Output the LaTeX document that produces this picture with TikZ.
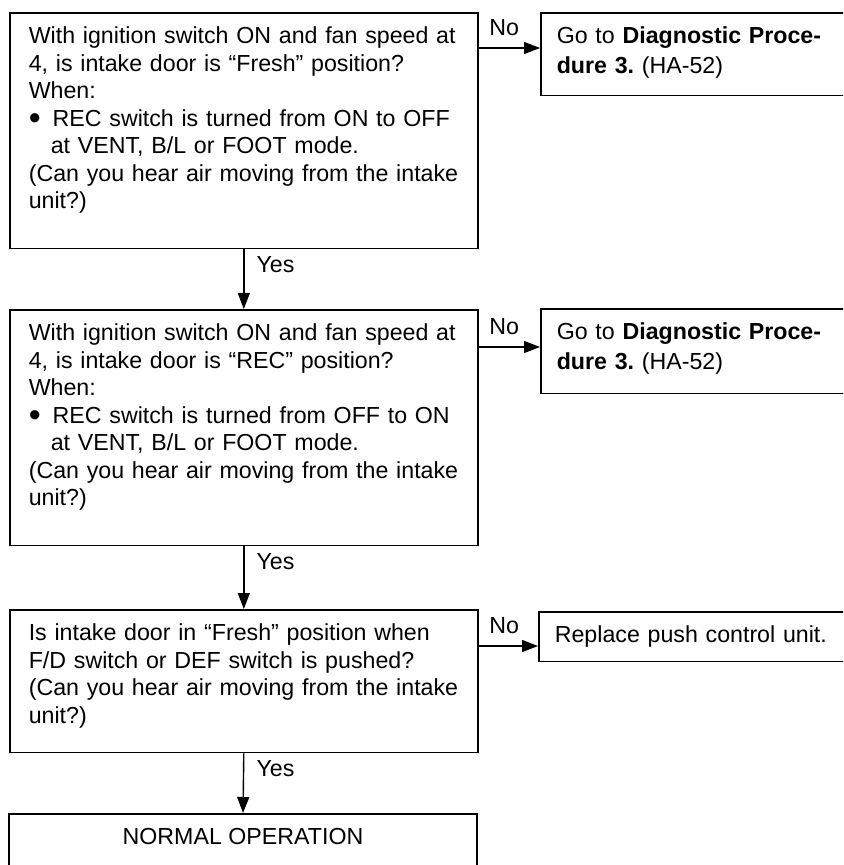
\documentclass[tikz,border=0pt]{standalone}
\usepackage{fontspec}
\setmainfont{Liberation Sans}
\usetikzlibrary{arrows.meta,positioning}
\newcommand{\dotitem}{\raisebox{-1.7pt}{\fontsize{17pt}{14pt}\selectfont\textbullet}\hspace{6pt}}
\tikzset{
  qbox/.style={draw, line width=0.8pt, anchor=north west, align=left,
               text width=215pt, inner xsep=9.5pt, inner ysep=7pt, text depth=#1,
               font=\fontsize{11.6pt}{13.75pt}\selectfont},
  abox/.style={draw, line width=0.8pt, anchor=north west, align=left,
               text width=320pt, inner xsep=8pt, inner ysep=7pt, text depth=#1,
               font=\fontsize{11.6pt}{15pt}\selectfont},
  endbox/.style={draw, line width=0.8pt, anchor=north, minimum width=234pt,
                 inner ysep=7pt, text depth=10.5pt,
                 font=\fontsize{11.6pt}{13.75pt}\selectfont},
  flow/.style={-{Triangle[length=8pt, width=6pt]}, line width=0.7pt},
  nolbl/.style={pos=0, anchor=south west, xshift=3pt, yshift=4pt, inner sep=2pt,
                font=\fontsize{11.6pt}{13.75pt}\selectfont},
  yeslbl/.style={pos=0, anchor=north west, xshift=4pt, yshift=-1.3pt, inner sep=2pt,
                 font=\fontsize{11.6pt}{13.75pt}\selectfont},
}

\begin{document}
\begin{tikzpicture}[x=0.5pt, y=-0.5pt]
\useasboundingbox (0,0) rectangle (843,865);
\clip (0,0) rectangle (843,865);

% Check steps (left column)
\node[qbox=95.5pt] (q1) at (9,12) {With ignition switch ON and fan speed at\\
  4, is intake door is ``Fresh'' position?\\
  When:\\
  \dotitem REC switch is turned from ON to OFF\\
  \hspace*{11pt}at VENT, B/L or FOOT mode.\\
  (Can you hear air moving from the intake\\
  unit?)};
\node[qbox=95.5pt] (q2) at (9,309) {With ignition switch ON and fan speed at\\
  4, is intake door is ``REC'' position?\\
  When:\\
  \dotitem REC switch is turned from OFF to ON\\
  \hspace*{11pt}at VENT, B/L or FOOT mode.\\
  (Can you hear air moving from the intake\\
  unit?)};
\node[qbox=49pt] (q3) at (9,609) {Is intake door in ``Fresh'' position when\\
  F/D switch or DEF switch is pushed?\\
  (Can you hear air moving from the intake\\
  unit?)};
\node[endbox] (ok) at (243,813) {NORMAL OPERATION};

% Actions (right column)
\node[abox=19pt] (r1) at (540,12) {Go to \textbf{Diagnostic Proce-}\\
  \textbf{dure 3.}\ (HA-52)};
\node[abox=20pt] (r2) at (540,308) {Go to \textbf{Diagnostic Proce-}\\
  \textbf{dure 3.}\ (HA-52)};
\node[abox=2.5pt] (r3) at (538,611) {Replace push control unit.};

% Yes path
\draw[flow] (q1.south) -- node[yeslbl] (y1) {Yes} (q2.north);
\draw[flow] (q2.south) -- node[yeslbl] (y2) {Yes} (q3.north);
\draw[flow] (q3.south) -- node[yeslbl] (y3) {Yes} (ok.north);

% No path
\coordinate (n1) at ([yshift=-18pt]q1.north east);
\coordinate (n2) at ([yshift=-19pt]q2.north east);
\coordinate (n3) at ([yshift=-18.5pt]q3.north east);
\draw[flow] (n1) -- node[nolbl] (no1) {No} (n1 -| r1.west);
\draw[flow] (n2) -- node[nolbl] (no2) {No} (n2 -| r2.west);
\draw[flow] (n3) -- node[nolbl] (no3) {No} (n3 -| r3.west);

\end{tikzpicture}
\end{document}
